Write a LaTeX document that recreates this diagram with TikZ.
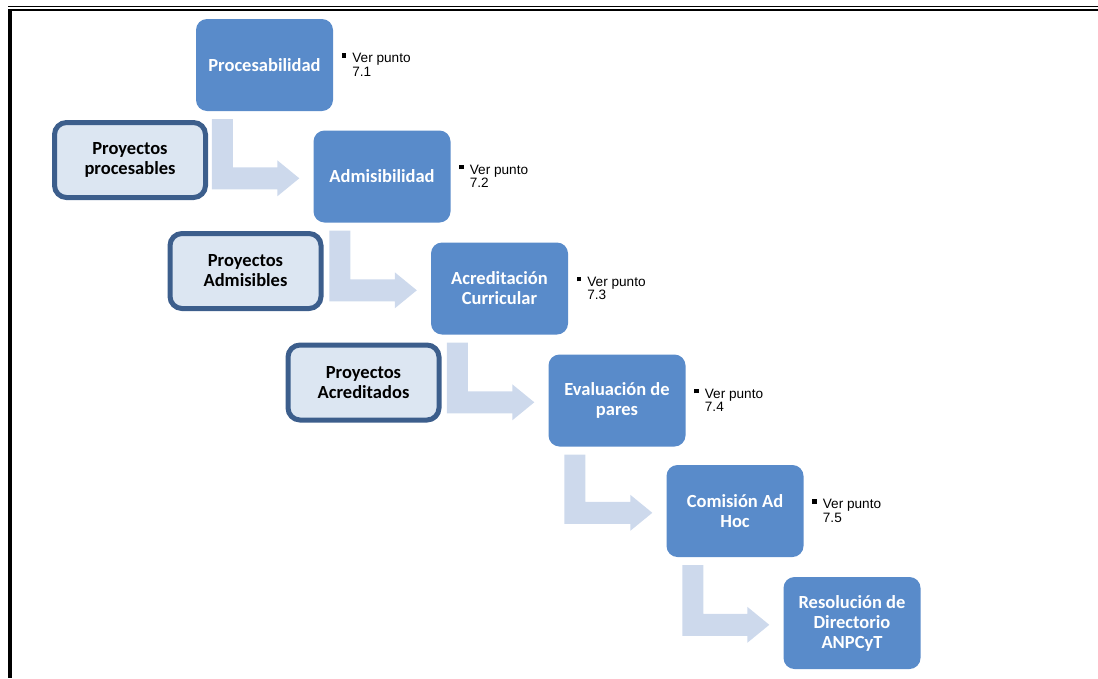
\documentclass[tikz,border=0pt]{standalone}
\usepackage{fontspec}
\setmainfont{Carlito}
\newfontfamily\arialf{Liberation Sans}
\usetikzlibrary{calc}
\definecolor{boxblue}{RGB}{89,139,202}
\definecolor{arrowblue}{RGB}{205,217,236}
\definecolor{projborder}{RGB}{60,94,140}
\definecolor{projfill}{RGB}{220,230,242}
\newcommand\verpunto[1]{\begin{tabular}[t]{@{}l@{}}\llap{\rule[5pt]{4.5pt}{4.5pt}\hspace{6pt}}Ver punto\\#1\end{tabular}}
\newcommand\bentarrow[2]{%
  \fill[arrowfill] ($(#1.south west)+(16,8)$) -- ($(#1.south west)+(37,8)$)
    -- ($(#1.south west |- #2.north)+(37,37)$) -- ($(#2.north west)+(-36,37)$)
    -- ($(#2.north west)+(-36,30)$) -- ($(#2.north west)+(-14,48)$)
    -- ($(#2.north west)+(-36,66)$) -- ($(#2.north west)+(-36,59)$)
    -- ($(#1.south west |- #2.north)+(16,59)$) -- cycle;}
\begin{document}
\begin{tikzpicture}[x=1pt,y=-1pt,
  stepbox/.style={fill=boxblue, rounded corners=11pt, minimum width=137pt, minimum height=92pt, inner sep=2pt, align=center, text=white, font=\fontsize{18.5}{20}\selectfont\bfseries},
  projbox/.style={draw=projborder, line width=5pt, fill=projfill, rounded corners=12pt, minimum width=151pt, minimum height=75pt, inner sep=2pt, align=center, text=black, font=\fontsize{18.5}{20}\selectfont\bfseries},
  verlbl/.style={anchor=base west, inner sep=0pt, font=\arialf\fontsize{13.6}{13.5}\selectfont},
  arrowfill/.style={fill=arrowblue}]
\useasboundingbox (0,0) rectangle (1098,678);
% frame
\fill[black] (8,5.7) rectangle (1098,7.1);
\fill[black] (8,8.8) rectangle (1098,11.3);
\fill[black] (8,8.8) rectangle (12,678);
% steps
\node[stepbox] (b1) at (264.5,65) {Procesabilidad};
\node[stepbox] (b2) at (382,176.5) {Admisibilidad};
\node[stepbox] (b3) at (499.5,288.5) {Acreditación\\Curricular};
\node[stepbox] (b4) at (617,400.5) {Evaluación de\\pares};
\node[stepbox] (b5) at (735,511) {Comisión Ad\\Hoc};
\node[stepbox] (b6) at (852,623) {Resolución de\\Directorio\\ANPCyT};
% arrows
\bentarrow{b1}{b2}
\bentarrow{b2}{b3}
\bentarrow{b3}{b4}
\bentarrow{b4}{b5}
\bentarrow{b5}{b6}
% project boxes
\node[projbox] (p1) at (130,160) {Proyectos\\procesables};
\node[projbox] (p2) at (245.5,271) {Proyectos\\Admisibles};
\node[projbox] (p3) at (363.5,382.5) {Proyectos\\Acreditados};
% labels
\node[verlbl] (l1) at ($(b1.north east)+(19,44)$) {\verpunto{7.1}};
\node[verlbl] (l2) at ($(b2.north east)+(19,44)$) {\verpunto{7.2}};
\node[verlbl] (l3) at ($(b3.north east)+(19,44)$) {\verpunto{7.3}};
\node[verlbl] (l4) at ($(b4.north east)+(19,44)$) {\verpunto{7.4}};
\node[verlbl] (l5) at ($(b5.north east)+(19,44)$) {\verpunto{7.5}};
\end{tikzpicture}
\end{document}
